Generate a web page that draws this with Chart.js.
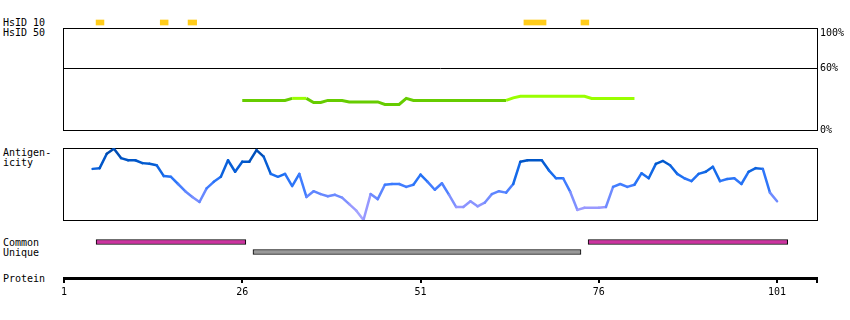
<!DOCTYPE html>
<html>
<head>
<meta charset="utf-8">
<script src="https://cdn.jsdelivr.net/npm/chart.js@4.4.0/dist/chart.umd.min.js"></script>
<style>
  body { margin: 0; background: #fff; }
  #wrap { position: relative; width: 850px; height: 320px; overflow: hidden; font: 10px "DejaVu Sans Mono", monospace; color: #000; }
  #wrap canvas { position: absolute; left: 0; }
  .lbl { position: absolute; left: 3px; line-height: 10px; white-space: pre; }
</style>
</head>
<body>
<div id="wrap">
  <div class="lbl" style="top:18px">HsID 10</div>
  <div class="lbl" style="top:28px">HsID 50</div>
  <div class="lbl" style="top:148px">Antigen-<br>icity</div>
  <div class="lbl" style="top:238px">Common<br>Unique</div>
  <div class="lbl" style="top:274px">Protein</div>
  <canvas id="hsid10" width="850" height="15" style="top:15px"></canvas>
  <canvas id="hsid50" width="850" height="122" style="top:18px"></canvas>
  <canvas id="antigen" width="850" height="90" style="top:140px"></canvas>
  <canvas id="regions" width="850" height="20" style="top:237px"></canvas>
  <canvas id="protein" width="850" height="40" style="top:270px"></canvas>
</div>
<script>
// Data
const proteinStart = 1;
const proteinEnd = 106.6;
const positionTicks = [1, 26, 51, 76, 101];
const percentTicks = [0, 60, 100];

const hsid10Regions = [[5.5, 6.6], [14.5, 15.6], [18.4, 19.6], [65.5, 68.6], [73.5, 74.6]];

const hsid50Start = 26;
const hsid50Values = [
    29, 29, 29, 29, 29, 29, 29, 31, 31, 31,
    27, 27, 29, 29, 29, 27.5, 27.5, 27.5, 27.5, 27.5,
    25, 25, 25, 31, 29, 29, 29, 29, 29, 29,
    29, 29, 29, 29, 29, 29, 29, 29, 31.5, 33,
    33, 33, 33, 33, 33, 33, 33, 33, 33, 31,
    31, 31, 31, 31, 31, 31
];

const antigenStart = 5;
const antigenValues = [
    71, 72, 92, 99, 86, 83, 83, 79, 78, 76,
    61, 60, 50, 40, 32, 25, 44, 53, 60, 83,
    67, 81, 81, 97, 88, 64, 60, 64, 47, 64,
    32, 40, 36, 33, 35, 31, 22, 13, 0, 36,
    29, 49, 50, 50, 46, 49, 63, 53, 42, 51,
    35, 18, 18, 26, 19, 24, 36, 40, 38, 50,
    81, 83, 83, 83, 69, 58, 58, 39, 14, 17,
    17, 17, 18, 46, 50, 46, 49, 65, 58, 78,
    82, 76, 64, 58, 54, 64, 67, 74, 54, 57,
    58, 50, 67, 72, 71, 38, 26
];

const regionRows = ['Common', 'Unique'];
const commonRegions = [[5.5, 26.5], [74.5, 102.5]];
const uniqueRegions = [[27.5, 73.5]];

// Chart defaults
Chart.defaults.font.family = '"DejaVu Sans Mono", monospace';
Chart.defaults.font.size = 10;
Chart.defaults.color = '#000';

const colors = {
    hsid10: '#ffcc1a',
    greenLow: '#66cc00',
    greenHigh: '#99ff00',
    common: '#cc33a0',
    unique: '#999999'
};

// antigenicity colour ramp: low = lavender, high = dark blue
const antigenStops = [
    [0, [170, 170, 255]],
    [17, [153, 153, 255]],
    [35, [102, 136, 255]],
    [50, [59, 123, 255]],
    [62, [26, 110, 240]],
    [80, [0, 88, 204]],
    [100, [0, 72, 168]]
];

function antigenColor(v) {
    for (let i = 1; i < antigenStops.length; i++) {
        const [v1, c1] = antigenStops[i];
        const [v0, c0] = antigenStops[i - 1];
        if (v <= v1) {
            const t = (v - v0) / (v1 - v0);
            const c = c0.map((ch, k) => Math.round(ch + (c1[k] - ch) * t));
            return `rgb(${c[0]}, ${c[1]}, ${c[2]})`;
        }
    }
    return 'rgb(0, 72, 168)';
}

// Box round the plot area
const framePlugin = {
    id: 'frame',
    beforeDatasetsDraw(chart) {
        const { ctx, chartArea: a } = chart;
        ctx.save();
        ctx.strokeStyle = '#000';
        ctx.lineWidth = 1;
        ctx.strokeRect(a.left - 0.5, a.top + 0.5, a.right - a.left + 1, a.bottom - a.top);
        ctx.restore();
    }
};

function baseOptions(padding) {
    return {
        responsive: false,
        animation: false,
        devicePixelRatio: 1,
        events: [],
        layout: { padding: padding },
        plugins: {
            legend: { display: false },
            tooltip: { enabled: false }
        }
    };
}

const xHidden = { type: 'linear', min: proteinStart, max: proteinEnd, display: false };

// HsID 10 track
new Chart(document.getElementById('hsid10'), {
    type: 'bar',
    data: {
        labels: ['HsID 10'],
        datasets: [{
            data: hsid10Regions.map(r => ({ y: 'HsID 10', x: r })),
            backgroundColor: colors.hsid10,
            borderWidth: 0,
            barThickness: 5,
            grouped: false
        }]
    },
    options: {
        ...baseOptions({ left: 64, right: 33, top: 0, bottom: 0 }),
        indexAxis: 'y',
        scales: {
            x: xHidden,
            y: { type: 'category', display: false }
        }
    }
});

// HsID 50 panel
new Chart(document.getElementById('hsid50'), {
    type: 'line',
    data: {
        datasets: [{
            data: hsid50Values.map((v, i) => ({ x: hsid50Start + i, y: v })),
            borderWidth: 3,
            pointRadius: 0,
            tension: 0,
            borderColor: colors.greenLow,
            segment: {
                borderColor: c => (c.p0.parsed.y + c.p1.parsed.y) / 2 > 30 ? colors.greenHigh : colors.greenLow
            }
        }]
    },
    options: {
        ...baseOptions({ left: 64, right: 0, top: 10, bottom: 10 }),
        scales: {
            x: xHidden,
            y: {
                min: 0,
                max: 100,
                position: 'right',
                afterBuildTicks: s => { s.ticks = percentTicks.map(v => ({ value: v })); },
                afterFit: s => {
                    s.width = 33;
                    // keep the plot box fixed; labels may overhang it
                    s.paddingTop = 0;
                    s.paddingBottom = 0;
                },
                ticks: {
                    padding: 3,
                    font: { size: 10, lineHeight: 1 },
                    callback: v => v === 100 ? ['', v + '%'] : v + '%'
                },
                grid: { drawTicks: false, color: '#000', lineWidth: 1 },
                border: { display: false }
            }
        }
    },
    plugins: [framePlugin]
});

// Antigenicity panel
new Chart(document.getElementById('antigen'), {
    type: 'line',
    data: {
        datasets: [{
            data: antigenValues.map((v, i) => ({ x: antigenStart + i, y: v })),
            borderWidth: 2.5,
            pointRadius: 0,
            tension: 0,
            borderJoinStyle: 'round',
            borderCapStyle: 'round',
            borderColor: antigenColor(50),
            segment: {
                borderColor: c => antigenColor((c.p0.parsed.y + c.p1.parsed.y) / 2)
            }
        }]
    },
    options: {
        ...baseOptions({ left: 64, right: 33, top: 8, bottom: 10 }),
        scales: {
            x: xHidden,
            y: { min: 0, max: 100, display: false }
        }
    },
    plugins: [framePlugin]
});

// Common / Unique regions
new Chart(document.getElementById('regions'), {
    type: 'bar',
    data: {
        labels: regionRows,
        datasets: [{
            label: 'Common',
            data: commonRegions.map(r => ({ y: 'Common', x: r })),
            backgroundColor: colors.common,
            borderColor: '#000',
            borderWidth: 1,
            borderSkipped: false,
            barThickness: 5,
            grouped: false
        }, {
            label: 'Unique',
            data: uniqueRegions.map(r => ({ y: 'Unique', x: r })),
            backgroundColor: colors.unique,
            borderColor: '#000',
            borderWidth: 1,
            borderSkipped: false,
            barThickness: 5,
            grouped: false
        }]
    },
    options: {
        ...baseOptions({ left: 64, right: 33, top: 0, bottom: 0 }),
        indexAxis: 'y',
        scales: {
            x: xHidden,
            y: { type: 'category', display: false }
        }
    }
});

// Protein position axis
new Chart(document.getElementById('protein'), {
    type: 'line',
    data: { datasets: [] },
    options: {
        ...baseOptions({ left: 64, right: 33, top: 0, bottom: 0 }),
        scales: {
            x: {
                type: 'linear',
                min: proteinStart,
                max: proteinEnd,
                position: 'bottom',
                afterBuildTicks: s => { s.ticks = [...positionTicks, proteinEnd].map(v => ({ value: v })); },
                afterFit: s => { s.height = 32; },
                ticks: {
                    padding: 3,
                    autoSkip: false,
                    maxRotation: 0,
                    callback: v => positionTicks.includes(v) ? String(v) : ''
                },
                grid: { drawOnChartArea: false, drawTicks: true, tickLength: 5, lineWidth: 2, color: '#000' },
                border: { display: true, width: 3, color: '#000' }
            },
            y: { display: false }
        }
    }
});
</script>
</body>
</html>
